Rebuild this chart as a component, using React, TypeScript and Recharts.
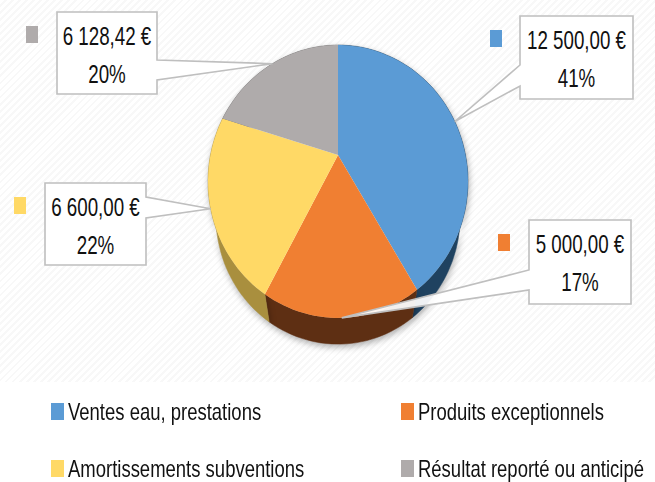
import React from "react";
import { PieChart, Pie, Cell, Legend } from "recharts";

const categories = [
  "Ventes eau, prestations",
  "Produits exceptionnels",
  "Amortissements subventions",
  "Résultat reporté ou anticipé",
];
const amounts = [12500, 5000, 6600, 6128.42];
const faceColors = ["#5B9BD5", "#F07F32", "#FFD966", "#AFABAB"];
const wallColors = ["#1F4260", "#5E2F13", "#A98F3E", "#6B6868"];

const data = categories.map((name, i) => ({ name, value: amounts[i] }));

// callout boxes + little colour keys, same order as the categories
const boxes = [
  { x: 520, y: 16, w: 113, h: 83, side: "left", a: 65, b: 86, keyX: 490, keyY: 30 },
  { x: 529, y: 220, w: 102, h: 84, side: "left", a: 270, b: 290, keyX: 498, keyY: 234 },
  { x: 45, y: 183, w: 101, h: 82, side: "right", a: 197, b: 218, keyX: 14, keyY: 197 },
  { x: 57, y: 12, w: 100, h: 82, side: "right", a: 60, b: 80, keyX: 26, keyY: 26 },
];

const FONT = '"Liberation Sans", sans-serif';
const SQUEEZE = 0.75;

// the pie is seen in perspective: the centre sits above the middle of the outline
function project(cx: number, cy: number, angle: number) {
  const t = ((90 - angle) * Math.PI) / 180;
  const u = Math.sin(t);
  const v = -Math.cos(t);
  const k = 1 - 0.194 * v;
  return { x: cx + (127.5 * u) / k, y: cy + (131.3 * v) / k };
}

function arcPoints(cx: number, cy: number, start: number, end: number) {
  const n = Math.max(2, Math.ceil(Math.abs(end - start) / 2));
  const pts = [];
  for (let i = 0; i <= n; i++) {
    pts.push(project(cx, cy, start + ((end - start) * i) / n));
  }
  return pts;
}

function toPath(pts: { x: number; y: number }[]) {
  return pts.map((p, i) => `${i ? "L" : "M"}${p.x.toFixed(1)} ${p.y.toFixed(1)}`).join(" ") + " Z";
}

function FaceShape(props: any) {
  const { cx, cy, startAngle, endAngle, fill } = props;
  const pts = [{ x: cx, y: cy }, ...arcPoints(cx, cy, startAngle, endAngle)];
  return <path d={toPath(pts)} fill={fill} />;
}

// lower rim is a bit smaller than the top face, further away from the viewer
function WallShape(props: any) {
  const { cx, cy, startAngle, endAngle, fill } = props;
  const top = arcPoints(cx, cy, startAngle, endAngle);
  const low = top.map((p) => ({ x: cx + (p.x - cx) * 0.94, y: cy + (p.y - cy) * 0.94 + 36 })).reverse();
  return <path d={toPath([...top, ...low])} fill={fill} stroke={fill} strokeWidth={0.5} style={{ filter: "drop-shadow(1px 3px 3px rgba(0,0,0,0.3))" }} />;
}

function money(v: number) {
  const [whole, dec] = v.toFixed(2).split(".");
  return `${whole.replace(/\B(?=(\d{3})+$)/g, " ")},${dec} €`;
}

function CalloutLabel(props: any) {
  const { cx, cy, midAngle, index, value, percent } = props;
  const b = boxes[index];
  const tip = project(cx, cy, midAngle);
  const r = b.x + b.w;
  const bot = b.y + b.h;
  const d =
    b.side === "left"
      ? `M${b.x} ${b.y} H${r} V${bot} H${b.x} V${b.b} L${tip.x} ${tip.y} L${b.x} ${b.a} Z`
      : `M${b.x} ${b.y} H${r} V${b.a} L${tip.x} ${tip.y} L${r} ${b.b} V${bot} H${b.x} Z`;
  const mid = b.x + b.w / 2;
  return (
    <g>
      <rect x={b.keyX} y={b.keyY} width={12} height={17} fill={faceColors[index]} />
      <path d={d} fill="#fff" fillOpacity={0.93} stroke="#BFBFBF" strokeWidth={1.6} />
      <text transform={`translate(${mid} ${b.y + 33}) scale(${SQUEEZE} 1)`} textAnchor="middle" fontFamily={FONT} fontSize={25} fill="#111">
        {money(value)}
      </text>
      <text transform={`translate(${mid} ${b.y + 71}) scale(${SQUEEZE} 1)`} textAnchor="middle" fontFamily={FONT} fontSize={25} fill="#111">
        {Math.round(percent * 100)}%
      </text>
    </g>
  );
}

function LegendGrid() {
  return (
    <div style={{ position: "relative", width: 655, height: 80, fontFamily: FONT, fontSize: 24, color: "#111" }}>
      {categories.map((name, i) => (
        <div
          key={name}
          style={{
            position: "absolute",
            left: i % 2 ? 401 : 51,
            top: i < 2 ? 0 : 57,
            display: "flex",
            alignItems: "center",
            whiteSpace: "nowrap",
            lineHeight: "17px",
          }}
        >
          <span style={{ width: 13, height: 17, marginRight: 4, background: faceColors[i] }} />
          <span style={{ display: "inline-block", transform: "scaleX(0.77)", transformOrigin: "left center" }}>{name}</span>
        </div>
      ))}
    </div>
  );
}

export default function App() {
  return (
    <div style={{ position: "fixed", left: 0, top: 0, width: 655, height: 482, background: "#fff", overflow: "hidden" }}>
      <div
        style={{
          position: "absolute",
          left: 0,
          top: 0,
          width: 655,
          height: 382,
          background: "repeating-linear-gradient(135deg, #fff 0 3px, #F8F8F8 3px 5px)",
        }}
      />
      <PieChart width={655} height={482} margin={{ top: 0, right: 0, bottom: 0, left: 0 }} style={{ position: "absolute", left: 0, top: 0 }}>
        <Pie
          data={data}
          dataKey="value"
          cx={338}
          cy={155}
          outerRadius={130}
          startAngle={90}
          endAngle={-270}
          stroke="none"
          shape={WallShape}
          isAnimationActive={false}
        >
          {data.map((d, i) => (
            <Cell key={d.name} fill={wallColors[i]} />
          ))}
        </Pie>
        <Pie
          data={data}
          dataKey="value"
          cx={338}
          cy={155}
          outerRadius={130}
          startAngle={90}
          endAngle={-270}
          stroke="none"
          shape={FaceShape}
          label={CalloutLabel}
          labelLine={false}
          isAnimationActive={false}
        >
          {data.map((d, i) => (
            <Cell key={d.name} fill={faceColors[i]} />
          ))}
        </Pie>
        <Legend content={LegendGrid} layout="horizontal" verticalAlign="bottom" wrapperStyle={{ left: 0, top: 403, bottom: "auto", width: 655 }} />
      </PieChart>
    </div>
  );
}
